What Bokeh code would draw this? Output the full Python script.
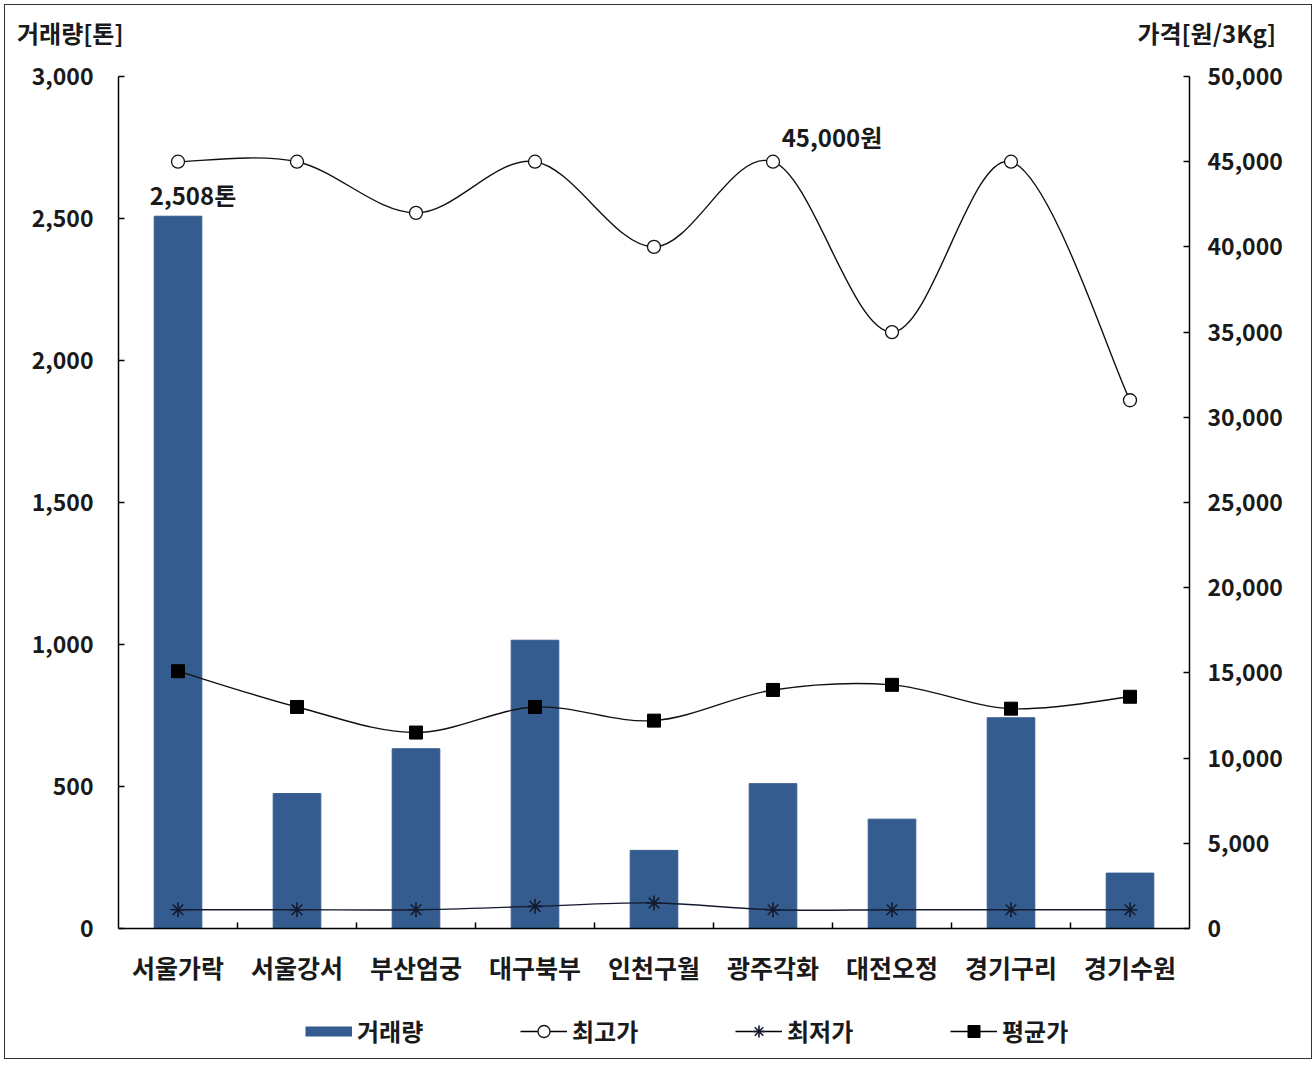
from bokeh.plotting import figure
from bokeh.layouts import column
from bokeh.models import (Range1d, LinearAxis, FixedTicker, NumeralTickFormatter, Div,
                          Legend, LegendItem, CustomJSTickFormatter, ColumnDataSource)
from bokeh.core.properties import value
from bokeh.embed import file_html
from bokeh.resources import INLINE

# ---------------- data ----------------
categories = ["서울가락", "서울강서", "부산엄궁", "대구북부", "인천구월",
              "광주각화", "대전오정", "경기구리", "경기수원"]
volume = [2508, 475, 633, 1015, 275, 510, 385, 742, 195]          # 거래량 (톤)
max_price = [45000, 45000, 42000, 45000, 40000, 45000, 35000, 45000, 31000]  # 최고가
min_price = [1100, 1100, 1100, 1300, 1500, 1100, 1100, 1100, 1100]          # 최저가
avg_price = [15100, 13000, 11500, 13000, 12200, 14000, 14300, 12900, 13600]  # 평균가
left_ticks = [0, 500, 1000, 1500, 2000, 2500, 3000]
right_ticks = [0, 5000, 10000, 15000, 20000, 25000, 30000, 35000, 40000, 45000, 50000]
left_title = "거래량[톤]"
right_title = "가격[원/3Kg]"
legend_labels = ["거래량", "최고가", "최저가", "평균가"]
vol_label_index = 0
price_label_index = 5

FONT = "Noto Sans CJK KR"
BAR = "#355C8E"
TXT = "#1a1a1a"
W = 1306

n = len(categories)
xs = [i + 0.5 for i in range(n)]

# ================= header: axis titles =================
span = ("position:absolute;top:18px;font-family:'Noto Sans CJK KR';font-weight:bold;"
        "font-size:24px;color:#1a1a1a;white-space:nowrap;line-height:20px;")
head = Div(width=W, height=44, margin=(0, 0, 0, 0),
           text=(f'<div style="position:relative;width:{W}px;height:44px;">'
                 f'<span style="{span}left:12px;">{left_title}</span>'
                 f'<span style="{span}right:35px;">{right_title}</span></div>'))

# ================= main plot =================
p = figure(width=W, height=951, output_backend="svg", toolbar_location=None,
           x_range=Range1d(0, n), y_range=Range1d(left_ticks[0], left_ticks[-1]),
           min_border_left=113, min_border_right=122, min_border_top=27,
           min_border_bottom=72, title=None)
p.extra_y_ranges = {"price": Range1d(right_ticks[0], right_ticks[-1])}
p.outline_line_color = None
p.grid.visible = False

p.vbar(x=xs, top=volume, width=0.4, fill_color=BAR, line_color=BAR)

# smooth curves (Catmull-Rom style bezier through the data points)
def smooth(xv, yv):
    m = len(xv)
    d = dict(x0=[], y0=[], x1=[], y1=[], cx0=[], cy0=[], cx1=[], cy1=[])
    for i in range(m - 1):
        ip = max(i - 1, 0)
        inn = min(i + 2, m - 1)
        d["x0"].append(xv[i]); d["y0"].append(yv[i])
        d["x1"].append(xv[i + 1]); d["y1"].append(yv[i + 1])
        d["cx0"].append(xv[i] + (xv[i + 1] - xv[ip]) / 6)
        d["cy0"].append(yv[i] + (yv[i + 1] - yv[ip]) / 6)
        d["cx1"].append(xv[i + 1] - (xv[inn] - xv[i]) / 6)
        d["cy1"].append(yv[i + 1] - (yv[inn] - yv[i]) / 6)
    return ColumnDataSource(d)

for series, col in ((max_price, "#111111"), (avg_price, "#111111"), (min_price, "#141a2e")):
    p.bezier(x0="x0", y0="y0", x1="x1", y1="y1", cx0="cx0", cy0="cy0", cx1="cx1", cy1="cy1",
             source=smooth(xs, series), y_range_name="price", line_color=col, line_width=1.4)

MK_MAX = dict(marker="circle", fill_color="white", line_color="#111111", line_width=1.3)
MK_MIN = dict(marker="asterisk", line_color="#141a2e", line_width=1.6)
MK_AVG = dict(marker="square", fill_color="black", line_color="black")
p.scatter(xs, max_price, size=13, y_range_name="price", **MK_MAX)
p.scatter(xs, min_price, size=15, y_range_name="price", **MK_MIN)
p.scatter(xs, avg_price, size=13, y_range_name="price", **MK_AVG)

# data labels
p.text(x=[xs[vol_label_index]], y=[volume[vol_label_index]],
       text=[f"{volume[vol_label_index]:,}톤"], x_offset=15, y_offset=-22,
       text_align="center", text_baseline="alphabetic", text_font=value(FONT),
       text_font_size="24px", text_font_style="bold", text_color=TXT)
p.text(x=[xs[price_label_index]], y=[max_price[price_label_index]],
       text=[f"{max_price[price_label_index]:,}원"], x_offset=59, y_offset=-25,
       text_align="center", text_baseline="alphabetic", text_font=value(FONT),
       text_font_size="24px", text_font_style="bold", text_color=TXT,
       y_range_name="price")

# axes
xa = p.xaxis[0]
xa.ticker = FixedTicker(ticks=xs, minor_ticks=list(range(1, n)))
xa.formatter = CustomJSTickFormatter(args=dict(labels=categories),
                                     code="return labels[Math.floor(tick)];")
xa.major_tick_line_color = None
xa.minor_tick_in = 6
xa.minor_tick_out = 0
xa.minor_tick_line_color = "black"
xa.minor_tick_line_width = 1.5
xa.axis_line_color = "black"
xa.axis_line_width = 1.5
xa.major_label_standoff = 14
xa.major_label_text_font = FONT
xa.major_label_text_font_size = "25px"
xa.major_label_text_font_style = "bold"
xa.major_label_text_color = TXT

ya = p.yaxis[0]
ya.ticker = FixedTicker(ticks=left_ticks)
ya.formatter = NumeralTickFormatter(format="0,0")
ya.major_tick_in = 6
ya.major_tick_out = 0
ya.minor_tick_line_color = None
ya.axis_line_color = "black"
ya.axis_line_width = 1.5
ya.major_tick_line_width = 1.5
ya.major_label_standoff = 25
ya.major_label_text_font = FONT
ya.major_label_text_font_size = "23px"
ya.major_label_text_font_style = "bold"
ya.major_label_text_color = TXT

ra = LinearAxis(y_range_name="price", ticker=FixedTicker(ticks=right_ticks),
                formatter=NumeralTickFormatter(format="0,0"))
ra.major_tick_in = 6
ra.major_tick_out = 0
ra.minor_tick_line_color = None
ra.axis_line_color = "black"
ra.axis_line_width = 1.5
ra.major_tick_line_width = 1.5
ra.major_label_standoff = 18
ra.major_label_text_font = FONT
ra.major_label_text_font_size = "23px"
ra.major_label_text_font_style = "bold"
ra.major_label_text_color = TXT
p.add_layout(ra, "right")

# ================= legend strip =================
# its renderers hold the same series but lie outside this strip's visible ranges
leg = figure(width=W, height=58, output_backend="svg", toolbar_location=None,
             x_range=Range1d(-2, -1), y_range=Range1d(-2, -1), min_border=0,
             min_border_left=113, min_border_right=122,
             x_axis_type=None, y_axis_type=None, title=None)
leg.outline_line_color = None
leg.grid.visible = False
r_bar = leg.line(xs, volume, line_color=BAR, line_width=10)
r_max_l = leg.line(xs, max_price, line_color="black", line_width=1.4)
r_min_l = leg.line(xs, min_price, line_color="black", line_width=1.4)
r_avg_l = leg.line(xs, avg_price, line_color="black", line_width=1.4)
r_max = leg.scatter(xs, max_price, **MK_MAX)
r_min = leg.scatter(xs, min_price, **MK_MIN)
r_avg = leg.scatter(xs, avg_price, **MK_AVG)
items = [LegendItem(label=legend_labels[0], renderers=[r_bar]),
         LegendItem(label=legend_labels[1], renderers=[r_max_l, r_max]),
         LegendItem(label=legend_labels[2], renderers=[r_min_l, r_min]),
         LegendItem(label=legend_labels[3], renderers=[r_avg_l, r_avg])]
legend = Legend(items=items, orientation="horizontal", location=(187, 10),
                glyph_width=47, glyph_height=30, label_height=30, label_standoff=5,
                label_width=75, spacing=88, padding=0, margin=0,
                border_line_color=None, background_fill_alpha=0,
                label_text_font=FONT, label_text_font_size="24px",
                label_text_font_style="bold", label_text_color=TXT)
leg.add_layout(legend, "center")

layout = column(head, p, leg, spacing=0)
layout.styles = {"margin-left": "5px", "margin-top": "5px",
                 "outline": "1px solid #333", "outline-offset": "0px"}

open("out.html", "w").write(file_html(layout, INLINE))
